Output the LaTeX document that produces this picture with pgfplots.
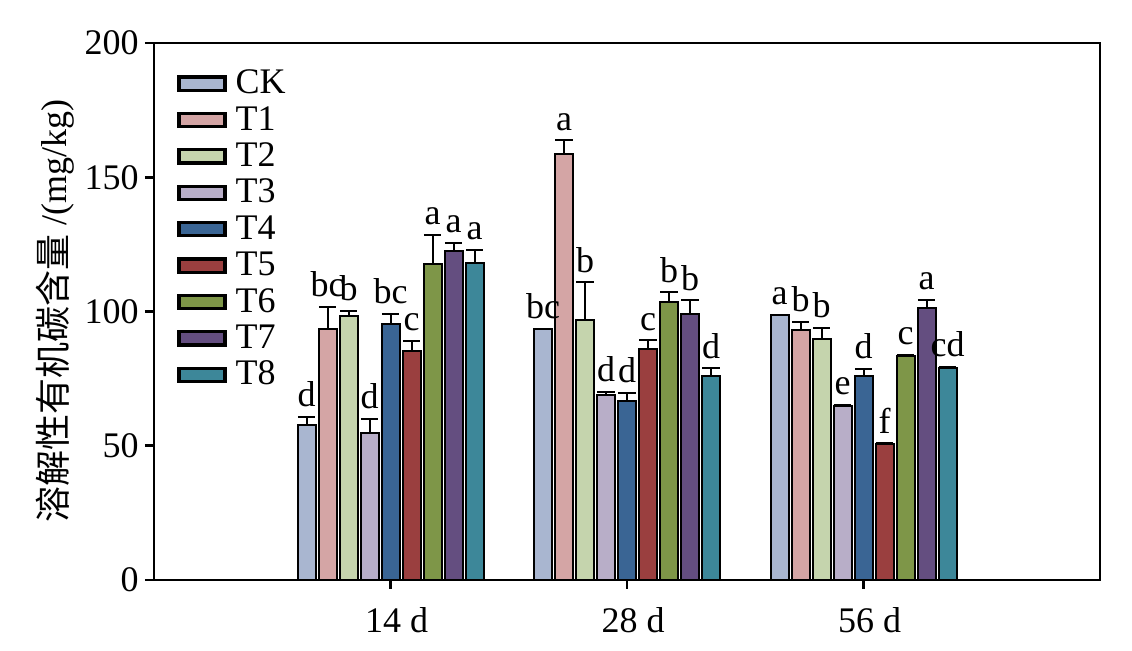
\documentclass[border=0pt]{standalone}
\usepackage{pgfplots}
\pgfplotsset{compat=1.18}
\usepackage{pgfplotstable}
\usepackage{fontspec}
\setmainfont{Liberation Serif}
\newfontfamily\cjk{Noto Sans CJK SC}

\definecolor{cCK}{HTML}{A9B6D0}
\definecolor{cT1}{HTML}{D4A5A5}
\definecolor{cT2}{HTML}{C5D4AD}
\definecolor{cT3}{HTML}{B8AEC8}
\definecolor{cT4}{HTML}{3A6594}
\definecolor{cT5}{HTML}{9A3F3F}
\definecolor{cT6}{HTML}{7E9648}
\definecolor{cT7}{HTML}{644E80}
\definecolor{cT8}{HTML}{3D8799}

\pgfplotstableread{
x CK CKe CKl T1 T1e T1l T2 T2e T2l T3 T3e T3l T4 T4e T4l T5 T5e T5l T6 T6e T6l T7 T7e T7l T8 T8e T8l
1 57.8 3.0 d 93.6 8.0 bc 98.4 1.8 b 54.8 5.2 d 95.3 3.7 bc 85.4 3.5 c 117.8 10.8 a 122.6 2.9 a 118.2 4.8 a
2 93.5 0 bc 158.5 5.2 a 96.8 14.0 b 68.8 1.4 d 66.6 3.0 d 86.0 3.2 c 103.5 3.6 b 99.1 5.0 b 75.8 3.0 d
3 98.8 0 a 93.2 3.0 b 89.9 4.0 b 64.7 0.6 e 76.1 2.6 d 50.5 0.5 f 83.5 0.4 c 101.3 2.9 a 78.9 0.5 cd
}\data

\newcommand{\series}[2]{%
  \addplot[fill=#2, draw=black, line width=1pt,
    point meta=explicit symbolic,
    visualization depends on={\thisrow{#1e}*1.3425+2.5 \as \eshift},
    nodes near coords,
    nodes near coords style={anchor=south, inner sep=2pt, yshift=\eshift pt, text=black},
    error bars/.cd, y dir=plus, y explicit,
      error bar style={line width=1pt, black},
      error mark options={rotate=90, mark size=4.3pt, line width=1pt, black}]
    table[x=x, y=#1, y error=#1e, meta=#1l]{\data};
}

\begin{document}
\fontsize{18}{21}\selectfont
\begin{tikzpicture}
\begin{axis}[
  scale only axis,
  width=473pt, height=268.5pt,
  xmin=0, xmax=4, ymin=0, ymax=200,
  ybar=1.5pt, bar width=9pt,
  xtick={1,2,3}, xticklabels={14 d,28 d,56 d},
  ytick={0,50,100,150,200},
  tick align=outside, xtick pos=bottom, ytick pos=left,
  major tick length=4.5pt,
  tick style={line width=1.4pt, black},
  axis line style={line width=1.4pt},
  /pgf/number format/assume math mode=true,
  xticklabel style={xshift=3pt, yshift=-3pt},
  yticklabel style={xshift=3pt},
  ylabel={{\cjk 溶解性有机碳含量} /(mg/kg)},
  ylabel style={at={(axis description cs:0,0.5)}, anchor=center, yshift=49.5pt},
  legend cell align=left,
  legend image code/.code={\draw[#1, draw=black, line width=1.6pt] (0pt,-3.3pt) rectangle (23pt,3.3pt);},
  legend style={at={(rel axis cs:0,1)}, anchor=north west, xshift=8.5pt, yshift=-9pt,
    draw=none, fill=none, row sep=0pt, column sep=3pt,
    nodes={inner sep=1.5pt, text height=12.7pt, text depth=2.5pt}},
]
\series{CK}{cCK}
\series{T1}{cT1}
\series{T2}{cT2}
\series{T3}{cT3}
\series{T4}{cT4}
\series{T5}{cT5}
\series{T6}{cT6}
\series{T7}{cT7}
\series{T8}{cT8}
\legend{CK,T1,T2,T3,T4,T5,T6,T7,T8}
\end{axis}
\pgfresetboundingbox
\useasboundingbox ([shift={(-77pt,-35.5pt)}]current axis.south west) rectangle ([shift={(16pt,21.5pt)}]current axis.north east);
\end{tikzpicture}
\end{document}
